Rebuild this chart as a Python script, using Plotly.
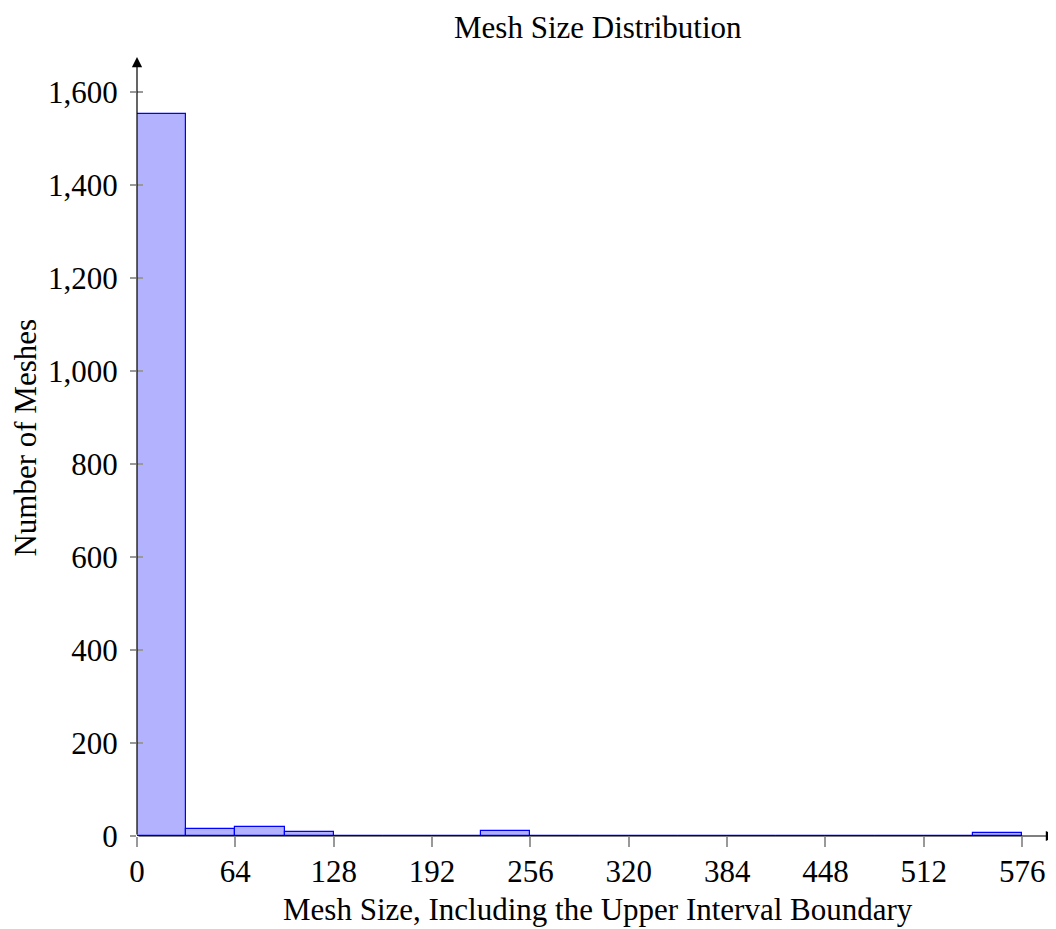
import plotly.graph_objects as go

bin_edges = [0, 32, 64, 96, 128, 160, 192, 224, 256, 288, 320, 352, 384, 416, 448, 480, 512, 544, 576]
counts = [1552, 15, 20, 8, 0, 0, 0, 10, 0, 0, 0, 0, 1, 0, 0, 0, 0, 6]
x_ticks = [0, 64, 128, 192, 256, 320, 384, 448, 512, 576]
y_ticks = [0, 200, 400, 600, 800, 1000, 1200, 1400, 1600]
y_tick_labels = ["0", "200", "400", "600", "800", "1,000", "1,200", "1,400", "1,600"]

title = "Mesh Size Distribution"
x_title = "Mesh Size, Including the Upper Interval Boundary"
y_title = "Number of Meshes"

FONT = "Liberation Serif"
FS = 31
XMAX = 598
YMAX = 1675
OFF = 8  # page body margin
W, H = 1056 - OFF, 929 - OFF
L, T, B = 136.5 - OFF, 57 - OFF, 93
PW, PH = W - L, H - T - B

centers = [(bin_edges[i] + bin_edges[i + 1]) / 2 for i in range(len(counts))]
widths = [bin_edges[i + 1] - bin_edges[i] for i in range(len(counts))]

fig = go.Figure()
fig.add_trace(go.Bar(
    x=centers, y=counts, width=widths,
    marker=dict(color="rgba(0,0,255,0.3)", line=dict(color="blue", width=1.2)),
    showlegend=False,
))
fig.add_trace(go.Scatter(
    x=[bin_edges[0], bin_edges[-1]], y=[0, 0], mode="lines",
    line=dict(color="blue", width=1.5), showlegend=False, hoverinfo="skip",
))
fig.add_trace(go.Scatter(x=[0], y=[0], yaxis="y2", mode="markers",
                         marker=dict(opacity=0), showlegend=False, hoverinfo="skip"))

fig.update_layout(
    width=W, height=H,
    margin=dict(l=L, r=0, t=T, b=B, autoexpand=False),
    plot_bgcolor="white", paper_bgcolor="white",
    font=dict(family=FONT, size=FS, color="black"),
    bargap=0,
    xaxis=dict(
        range=[0, XMAX], tickvals=x_ticks, ticktext=[str(v) for v in x_ticks],
        showgrid=False, zeroline=False, showline=False, automargin=False,
        ticks="outside", ticklen=10, tickcolor="#999999", tickwidth=1.5,
        ticklabelstandoff=-2,
        tickfont=dict(family=FONT, size=FS),
    ),
    yaxis=dict(
        range=[0, YMAX], tickvals=y_ticks, ticktext=y_tick_labels,
        showgrid=False, zeroline=False, showline=False, automargin=False,
        ticks="outside", ticklen=6, tickcolor="#999999", tickwidth=1.5,
        ticklabelstandoff=6,
        tickfont=dict(family=FONT, size=FS),
    ),
    yaxis2=dict(
        overlaying="y", range=[0, YMAX], tickvals=y_ticks, showticklabels=False,
        showgrid=False, zeroline=False, showline=False, automargin=False,
        ticks="inside", ticklen=6, tickcolor="#999999", tickwidth=1.5,
    ),
)

# titles as annotations (paper coordinates; page y -> figure y via OFF)
fig.add_annotation(text=title, xref="paper", yref="paper",
                   x=(598 - 136.5) / PW, y=1 + (57 - 8) / PH,
                   xanchor="center", yanchor="top", showarrow=False,
                   font=dict(family=FONT, size=FS))
fig.add_annotation(text=x_title, xref="paper", yref="paper",
                   x=(598 - 136.5) / PW, y=-(909 - 836) / PH,
                   xanchor="center", yanchor="middle", showarrow=False,
                   font=dict(family=FONT, size=FS))
fig.add_annotation(text=y_title, xref="paper", yref="paper", textangle=-90,
                   x=-(136.5 - 25) / PW, y=(836 - 438) / PH,
                   xanchor="center", yanchor="middle", showarrow=False,
                   font=dict(family=FONT, size=FS))

# axis lines with arrows
fig.add_annotation(x=XMAX, y=0, ax=0, ay=0, xref="x", yref="y", axref="x", ayref="y",
                   showarrow=True, arrowhead=2, arrowsize=1.7, arrowwidth=1.2,
                   arrowcolor="black", text="")
fig.add_annotation(x=0, y=YMAX, ax=0, ay=0, xref="x", yref="y", axref="x", ayref="y",
                   showarrow=True, arrowhead=2, arrowsize=1.7, arrowwidth=1.2,
                   arrowcolor="black", text="")

fig.write_html("out.html")
